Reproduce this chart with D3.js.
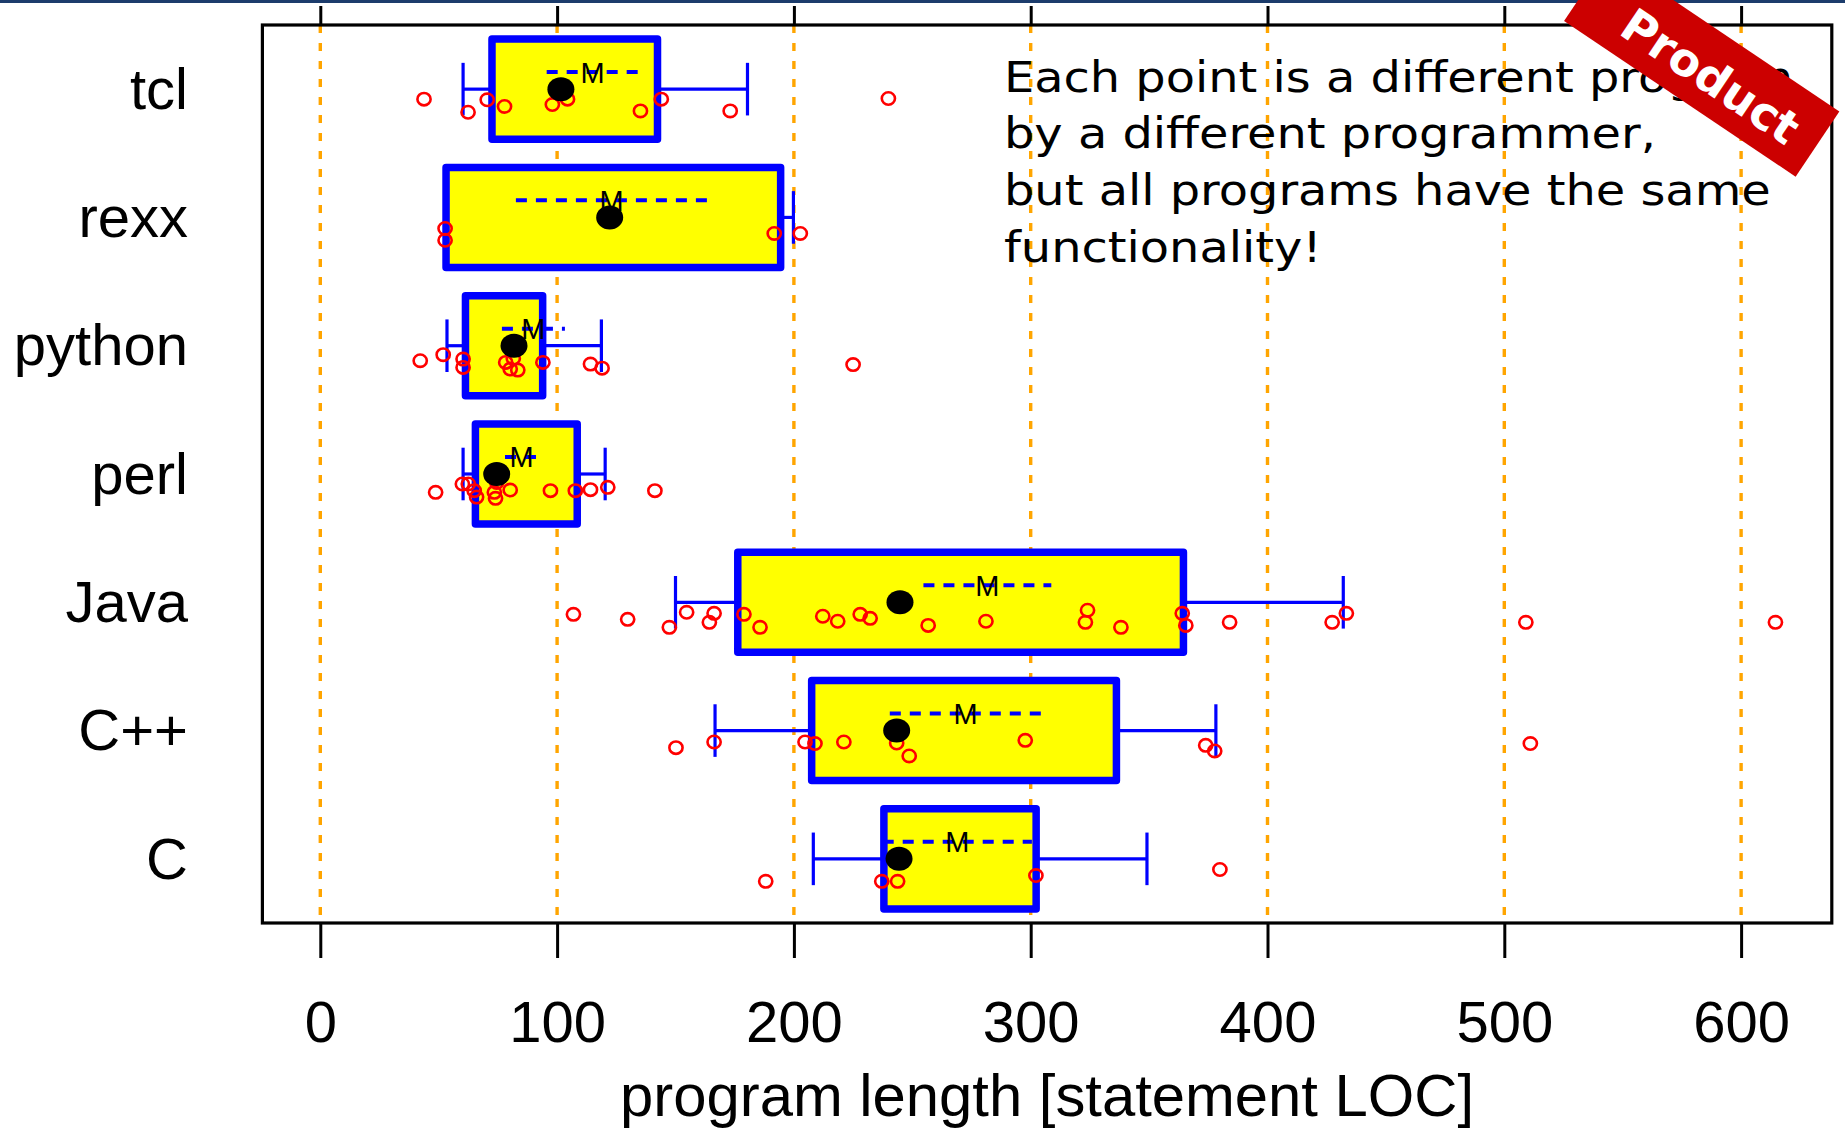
<!DOCTYPE html>
<html>
<head>
<meta charset="utf-8">
<script src="https://cdn.jsdelivr.net/npm/d3@7"></script>
<style>
  html, body { margin: 0; padding: 0; background: #ffffff; }
  svg { display: block; }
</style>
</head>
<body>
<svg id="chart" width="1845" height="1131"></svg>
<script>
// ---------------- DATA ----------------
const categories = ["tcl", "rexx", "python", "perl", "Java", "C++", "C"];
const xTicks = [0, 100, 200, 300, 400, 500, 600];
const xTitle = "program length [statement LOC]";
const noteLines = [
  "Each point is a different program",
  "by a different programmer,",
  "but all programs have the same",
  "functionality!"
];
const bannerText = "Product";

// box statistics per category (statement LOC)
const whiskerLow  = [60.3, 53.1, 53.5, 60.3, 150.0, 166.7, 208.2];
const quartile1   = [72.5, 53.1, 61.3, 65.5, 176.3, 207.5, 238.0];
const medians     = [101.6, 122.2, 81.8, 74.5, 244.8, 243.4, 244.4];
const quartile3   = [142.4, 194.4, 93.9, 108.5, 364.5, 336.2, 302.3];
const whiskerHigh = [180.4, 199.8, 118.7, 120.3, 432.0, 378.2, 349.1];
const means       = [115.0, 123.0, 90.0, 85.0, 281.7, 272.5, 269.0];
const meanSE      = [19.4, 40.4, 13.3, 7.0, 27.0, 32.0, 31.5];

// individual programs: [LOC, vertical jitter as fraction of the row band]
const pointsTcl = [[43.8,.078],[62.4,.18],[70.5,.083],[77.8,.135],[98.0,.12],[104.4,.078],[135.2,.17],[144.0,.078],[173.1,.17],[239.9,.073]];
const pointsRexx = [[52.7,.086],[52.7,.178],[191.7,.125],[202.7,.125]];
const pointsPython = [[42.2,.117],[51.9,.070],[60.3,.104],[60.3,.169],[78.3,.130],[81.5,.099],[80.2,.182],[83.4,.190],[94.0,.130],[114.1,.143],[119.0,.175],[225.0,.147]];
const pointsPerl = [[48.7,.143],[60.0,.078],[62.5,.078],[65.0,.13],[66.0,.18],[73.5,.143],[74.5,.066],[74.0,.19],[80.2,.125],[97.2,.13],[107.7,.13],[114.1,.122],[121.4,.104],[141.3,.13]];
const pointsJava = [[106.9,.094],[129.8,.133],[147.4,.195],[154.7,.078],[164.3,.156],[166.3,.086],[178.9,.094],[185.7,.195],[212.2,.109],[218.5,.148],[228.0,.094],[232.2,.125],[256.7,.18],[281.1,.148],[323.1,.156],[324.0,.062],[338.1,.195],[364.0,.086],[365.5,.18],[384.0,.156],[427.3,.156],[433.3,.086],[509.1,.156],[614.5,.156]];
const pointsCpp = [[150.2,.133],[166.3,.089],[204.7,.089],[208.9,.101],[221.1,.089],[243.4,.097],[248.7,.198],[297.7,.076],[373.9,.115],[377.7,.159],[511.0,.101]];
const pointsC = [[188.1,.175],[237.1,.175],[243.8,.175],[302.2,.13],[379.9,.083]];
const pointSets = [pointsTcl, pointsRexx, pointsPython, pointsPerl, pointsJava, pointsCpp, pointsC];

// ---------------- LAYOUT ----------------
const W = 1845, H = 1131;
const plot = { left: 262.4, right: 1831.8, top: 25, bottom: 923 };
const svg = d3.select("#chart");

const x = d3.scaleLinear().domain([-24.45, 638.3]).range([plot.left, plot.right]);
const y = d3.scaleBand().domain(categories).range([plot.top, plot.bottom]).padding(0);
const bw = y.bandwidth();
const cy = c => y(c) + bw / 2;

const BLUE = "#0000ff", YELLOW = "#ffff00", RED = "#ff0000", ORANGE = "#ffa500";
const ARIAL = "'Liberation Sans', Arial, Helvetica, sans-serif";

// top slide rule
svg.append("rect").attr("x", 0).attr("y", 0).attr("width", W).attr("height", 3).attr("fill", "#1c3c6c");

// gridlines
svg.append("g").selectAll("line").data(xTicks).join("line")
  .attr("x1", d => x(d)).attr("x2", d => x(d))
  .attr("y1", plot.top).attr("y2", plot.bottom)
  .attr("stroke", ORANGE).attr("stroke-width", 3.4).attr("stroke-dasharray", "8,10");

// rows
const rows = categories.map((c, i) => ({
  c, i, lo: whiskerLow[i], q1: quartile1[i], med: medians[i], q3: quartile3[i],
  hi: whiskerHigh[i], mean: means[i], se: meanSE[i], pts: pointSets[i]
}));

const rowG = svg.append("g").selectAll("g").data(rows).join("g");

// whiskers
rowG.append("line")
  .attr("x1", d => x(d.lo)).attr("x2", d => x(d.q1))
  .attr("y1", d => cy(d.c)).attr("y2", d => cy(d.c))
  .attr("stroke", BLUE).attr("stroke-width", 3.2);
rowG.append("line")
  .attr("x1", d => x(d.q3)).attr("x2", d => x(d.hi))
  .attr("y1", d => cy(d.c)).attr("y2", d => cy(d.c))
  .attr("stroke", BLUE).attr("stroke-width", 3.2);
const capH = bw * 0.205;
rowG.append("line")
  .attr("x1", d => x(d.lo)).attr("x2", d => x(d.lo))
  .attr("y1", d => cy(d.c) - capH).attr("y2", d => cy(d.c) + capH)
  .attr("stroke", BLUE).attr("stroke-width", 3.2);
rowG.append("line")
  .attr("x1", d => x(d.hi)).attr("x2", d => x(d.hi))
  .attr("y1", d => cy(d.c) - capH).attr("y2", d => cy(d.c) + capH)
  .attr("stroke", BLUE).attr("stroke-width", 3.2);

// boxes
const boxH = bw * 0.78;
rowG.append("rect")
  .attr("x", d => x(d.q1)).attr("width", d => x(d.q3) - x(d.q1))
  .attr("y", d => cy(d.c) - boxH / 2).attr("height", boxH)
  .attr("fill", YELLOW).attr("stroke", BLUE).attr("stroke-width", 7.5)
  .attr("stroke-linejoin", "round");

// individual points
rowG.each(function(d) {
  d3.select(this).append("g").selectAll("ellipse").data(d.pts).join("ellipse")
    .attr("cx", p => x(p[0]))
    .attr("cy", p => cy(d.c) + p[1] * bw)
    .attr("rx", 6.6).attr("ry", 6.2)
    .attr("fill", "none").attr("stroke", RED).attr("stroke-width", 2.6);
});

// median (fat dot)
rowG.append("ellipse")
  .attr("cx", d => x(d.med)).attr("cy", d => cy(d.c))
  .attr("rx", 13.5).attr("ry", 12).attr("fill", "#000");

// mean +/- SE dashed line and M
const mOff = bw * 0.133;
rowG.append("line")
  .attr("x1", d => x(d.mean - d.se)).attr("x2", d => x(d.mean + d.se))
  .attr("y1", d => cy(d.c) - mOff).attr("y2", d => cy(d.c) - mOff)
  .attr("stroke", BLUE).attr("stroke-width", 4).attr("stroke-dasharray", "11,9");
rowG.append("text")
  .attr("x", d => x(d.mean)).attr("y", d => cy(d.c) - mOff)
  .attr("dy", "0.36em").attr("text-anchor", "middle")
  .attr("font-family", ARIAL).attr("font-size", 29).attr("fill", "#000")
  .text("M");

// category labels
svg.append("g").selectAll("text").data(categories).join("text")
  .attr("x", 188).attr("y", d => cy(d)).attr("dy", "0.34em")
  .attr("text-anchor", "end").attr("font-family", ARIAL).attr("font-size", 58)
  .attr("fill", "#000").text(d => d);

// bottom axis
const axB = svg.append("g").attr("transform", `translate(0,${plot.bottom})`)
  .call(d3.axisBottom(x).tickValues(xTicks).tickSize(35).tickFormat(d3.format("d")));
axB.select(".domain").remove();
axB.selectAll(".tick line").attr("stroke", "#000").attr("stroke-width", 3);
axB.selectAll(".tick text").attr("y", 118.7).attr("dy", 0)
  .attr("font-family", ARIAL).attr("font-size", 58).attr("fill", "#000");

// top axis ticks
const axT = svg.append("g").attr("transform", `translate(0,${plot.top})`)
  .call(d3.axisTop(x).tickValues(xTicks).tickSize(19).tickFormat(""));
axT.select(".domain").remove();
axT.selectAll(".tick line").attr("stroke", "#000").attr("stroke-width", 3);

// plot frame
svg.append("rect")
  .attr("x", plot.left).attr("y", plot.top)
  .attr("width", plot.right - plot.left).attr("height", plot.bottom - plot.top)
  .attr("fill", "none").attr("stroke", "#000").attr("stroke-width", 3.2);

// axis title
svg.append("text")
  .attr("x", (plot.left + plot.right) / 2).attr("y", 1116)
  .attr("text-anchor", "middle").attr("font-family", ARIAL).attr("font-size", 59)
  .attr("fill", "#000").attr("textLength", 854).attr("lengthAdjust", "spacingAndGlyphs")
  .text(xTitle);

// annotation
const note = svg.append("g").attr("transform", "scale(1.1,1)");
note.selectAll("text").data(noteLines).join("text")
  .attr("x", 1004 / 1.1).attr("y", (d, i) => 91.7 + i * 56.7)
  .attr("font-family", "'DejaVu Sans', Verdana, sans-serif").attr("font-size", 43.5)
  .attr("fill", "#000").text(d => d);

// "Product" banner
const banner = svg.append("g").attr("transform", "translate(1701.7,66.3) rotate(33.9)");
banner.append("rect").attr("x", -139.5).attr("y", -39.2).attr("width", 279).attr("height", 78.4)
  .attr("fill", "#cc0000");
banner.append("text").attr("x", 13).attr("y", 3).attr("dy", "0.36em")
  .attr("text-anchor", "middle").attr("font-family", "'DejaVu Sans', Verdana, sans-serif")
  .attr("font-weight", "bold").attr("font-size", 46).attr("fill", "#fff").text(bannerText);
</script>
</body>
</html>
